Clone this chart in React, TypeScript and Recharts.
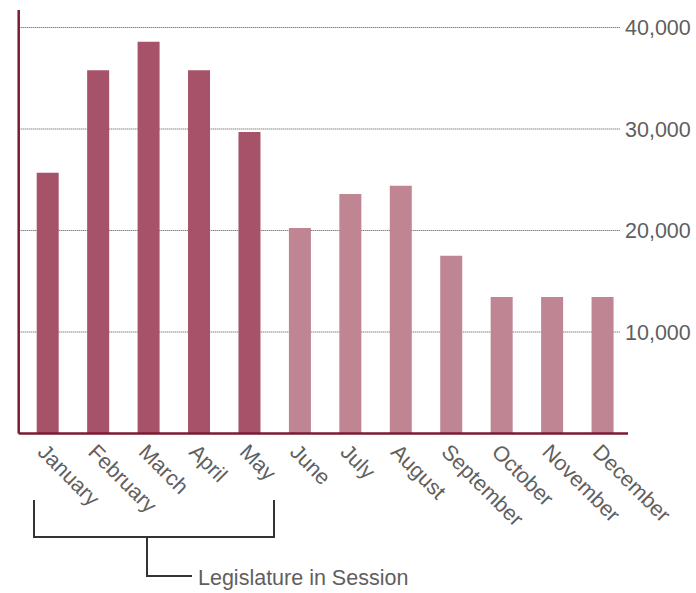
import React from 'react';
import { BarChart, Bar, Cell, XAxis, YAxis, CartesianGrid } from 'recharts';

const months = [
  'January', 'February', 'March', 'April', 'May', 'June',
  'July', 'August', 'September', 'October', 'November', 'December',
];
const visitors = [25700, 35800, 38600, 35800, 29700, 20250, 23600, 24400, 17500, 13450, 13450, 13450];
const inSession = [true, true, true, true, true, false, false, false, false, false, false, false];
const yTicks = [10000, 20000, 30000, 40000];

const data = months.map((m, i) => ({ month: m, value: visitors[i], session: inSession[i] }));

const FONT = '"Liberation Sans", Arial, Helvetica, sans-serif';
const TEXT = '#5f5f5f';
const AXIS = '#7a1a33';
const TOP = 10;

// rotated month label, hanging down-right from the tick
const MonthTick = ({ x, y, payload }: any) => (
  <g transform={`translate(${x - 11.3},${y + 19.7})`}>
    <text transform="rotate(45)" textAnchor="start" fontSize={21.5} fontFamily={FONT} fill={TEXT}>
      {payload.value}
    </text>
  </g>
);

const ValueTick = ({ x, y, payload }: any) => (
  <text x={x - 3} y={y} dy="0.355em" textAnchor="start" fontSize={21.5} fontFamily={FONT} fill={TEXT}>
    {payload.value.toLocaleString('en-US')}
  </text>
);

// dotted gridline that stops short of the labels
const GridLine = (p: any) => {
  if (p.y1 < TOP + 2) return <g key={p.key} />;
  return (
    <line
      key={p.key}
      x1={p.x1}
      y1={p.y1}
      x2={p.x2 - 8}
      y2={p.y2}
      stroke="#4a4a4a"
      strokeWidth={1}
      strokeDasharray="1 1"
    />
  );
};

export default function App() {
  return (
    <div style={{ position: 'absolute', left: 0, top: 0, width: 696, height: 593, background: '#fff' }}>
      <BarChart
        width={696}
        height={593}
        data={data}
        margin={{ top: TOP, right: 0, left: 17.7, bottom: 59.5 }}
        barCategoryGap={0}
      >
        <CartesianGrid yAxisId="r" vertical={false} horizontal={GridLine} />
        <XAxis
          dataKey="month"
          height={100}
          interval={0}
          padding={{ left: 4, right: 0 }}
          axisLine={{ stroke: AXIS, strokeWidth: 2.5 }}
          tickLine={false}
          tickSize={0}
          tickMargin={0}
          tick={<MonthTick />}
        />
        <YAxis
          yAxisId="l"
          orientation="left"
          width={1}
          domain={[0, 41724]}
          ticks={yTicks}
          tick={false}
          tickLine={false}
          axisLine={{ stroke: AXIS, strokeWidth: 2.5 }}
        />
        <YAxis
          yAxisId="r"
          orientation="right"
          width={68}
          domain={[0, 41724]}
          ticks={yTicks}
          axisLine={false}
          tickLine={false}
          tickSize={0}
          tickMargin={0}
          tick={<ValueTick />}
        />
        <Bar yAxisId="r" dataKey="value" barSize={22} isAnimationActive={false}>
          {data.map((d, i) => (
            <Cell key={i} fill={d.session ? '#a65369' : '#bf8593'} />
          ))}
        </Bar>
      </BarChart>
      <svg width={696} height={593} style={{ position: 'absolute', left: 0, top: 0, pointerEvents: 'none' }}>
        <path d="M34 500 V537 H274 V500 M147 537 V576 H192" fill="none" stroke="#333" strokeWidth={2} />
        <text x={198} y={585} fontSize={21.5} fontFamily={FONT} fill={TEXT}>
          Legislature in Session
        </text>
      </svg>
    </div>
  );
}
